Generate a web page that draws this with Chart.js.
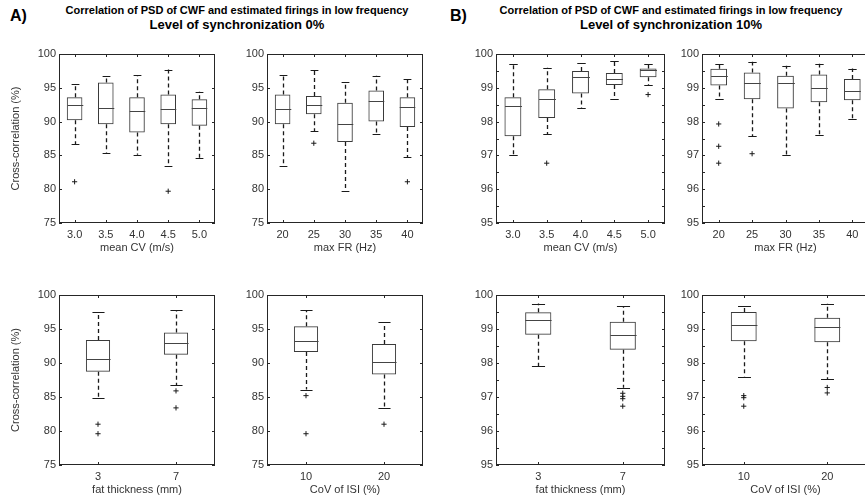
<!DOCTYPE html>
<html>
<head>
<meta charset="utf-8">
<script src="https://cdn.jsdelivr.net/npm/chart.js@4.4.1/dist/chart.umd.min.js"></script>
<style>
  body { margin: 0; background: #fff; width: 865px; height: 499px; overflow: hidden; position: relative;
         font-family: Arial, "Liberation Sans", sans-serif; }
  canvas { position: absolute; }
  .t { position: absolute; text-align: center; font-weight: bold; color: #000; white-space: nowrap; }
</style>
</head>
<body>
<div class="t" style="left:10px;top:8px;font-size:16px;line-height:16px;text-align:left">A)</div>
<div class="t" style="left:37px;top:4px;width:400px;font-size:11px;line-height:13px">Correlation of PSD of CWF and estimated firings in low frequency</div>
<div class="t" style="left:37px;top:18px;width:400px;font-size:13px;line-height:14px">Level of synchronization 0%</div>
<div class="t" style="left:450px;top:8px;font-size:16px;line-height:16px;text-align:left">B)</div>
<div class="t" style="left:471px;top:4px;width:400px;font-size:11px;line-height:13px">Correlation of PSD of CWF and estimated firings in low frequency</div>
<div class="t" style="left:471px;top:18px;width:400px;font-size:13px;line-height:14px">Level of synchronization 10%</div>

<script>
// categories
const cvLabels = ['3.0', '3.5', '4.0', '4.5', '5.0'];
const frLabels = ['20', '25', '30', '35', '40'];
const fatLabels = ['3', '7'];
const isiLabels = ['10', '20'];

// sync 0% - mean CV
const cv0Lo  = [86.7, 85.4, 85.1, 83.4, 84.6];
const cv0Q1  = [90.2, 89.6, 88.4, 89.6, 89.4];
const cv0Med = [92.4, 92.0, 91.5, 91.9, 92.0];
const cv0Q3  = [93.6, 95.8, 93.6, 94.0, 93.3];
const cv0Hi  = [95.6, 96.8, 96.9, 97.7, 94.4];
const cv0Out = [[81.1], [], [], [79.7], []];

// sync 0% - max FR
const fr0Lo  = [83.4, 88.6, 79.7, 88.2, 84.7];
const fr0Q1  = [89.6, 91.1, 87.0, 90.0, 89.2];
const fr0Med = [91.8, 92.4, 89.7, 93.0, 92.2];
const fr0Q3  = [94.0, 93.8, 92.8, 94.6, 93.6];
const fr0Hi  = [96.9, 97.7, 95.8, 96.8, 96.3];
const fr0Out = [[], [86.8], [], [], [81.1]];

// sync 0% - fat thickness
const fat0Lo  = [84.8, 86.7];
const fat0Q1  = [88.7, 91.2];
const fat0Med = [90.6, 93.0];
const fat0Q3  = [93.4, 94.5];
const fat0Hi  = [97.5, 97.8];
const fat0Out = [[81.0, 79.6], [85.9, 83.4]];

// sync 0% - CoV of ISI
const isi0Lo  = [86.1, 83.4];
const isi0Q1  = [91.6, 88.3];
const isi0Med = [93.2, 90.2];
const isi0Q3  = [95.4, 92.8];
const isi0Hi  = [97.8, 96.0];
const isi0Out = [[85.2, 79.6], [81.0]];

// sync 10% - mean CV
const cv10Lo  = [97.00, 97.62, 98.40, 98.67, 99.08];
const cv10Q1  = [97.57, 98.11, 98.83, 99.08, 99.31];
const cv10Med = [98.46, 98.66, 99.31, 99.26, 99.53];
const cv10Q3  = [98.72, 98.96, 99.50, 99.44, 99.57];
const cv10Hi  = [99.69, 99.59, 99.72, 99.79, 99.71];
const cv10Out = [[], [96.77], [], [], [98.80]];

// sync 10% - max FR
const fr10Lo  = [98.66, 97.57, 97.00, 97.60, 98.09];
const fr10Q1  = [99.07, 98.66, 98.39, 98.57, 98.63];
const fr10Med = [99.36, 99.15, 99.15, 99.00, 98.90];
const fr10Q3  = [99.56, 99.45, 99.36, 99.39, 99.26];
const fr10Hi  = [99.71, 99.77, 99.65, 99.71, 99.57];
const fr10Out = [[97.93, 97.27, 96.77], [97.05], [], [], []];

// sync 10% - fat thickness
const fat10Lo  = [97.90, 97.27];
const fat10Q1  = [98.83, 98.39];
const fat10Med = [99.27, 98.83];
const fat10Q3  = [99.49, 99.21];
const fat10Hi  = [99.75, 99.67];
const fat10Out = [[], [97.11, 97.02, 96.95, 96.73]];

// sync 10% - CoV of ISI
const isi10Lo  = [97.60, 97.53];
const isi10Q1  = [98.64, 98.61];
const isi10Med = [99.12, 99.06];
const isi10Q3  = [99.50, 99.33];
const isi10Hi  = [99.67, 99.75];
const isi10Out = [[97.04, 96.98, 96.73], [97.28, 97.12]];

const ticksA = [75, 100, 5];
const ticksB = [95, 100, 1];

const FONT = 'Arial, "Liberation Sans", sans-serif';
const AX = '#262626';
const TXT = '#333';

const panels = [
  { l: 59,  t: 54,  r: 215, b: 223, labels: cvLabels,  xt: 'mean CV (m/s)',      yt: 'Cross-correlation (%)', yr: ticksA, minor: 0,
    lo: cv0Lo, q1: cv0Q1, med: cv0Med, q3: cv0Q3, hi: cv0Hi, out: cv0Out },
  { l: 267, t: 54,  r: 423, b: 223, labels: frLabels,  xt: 'max FR (Hz)',        yt: '', yr: ticksA, minor: 0,
    lo: fr0Lo, q1: fr0Q1, med: fr0Med, q3: fr0Q3, hi: fr0Hi, out: fr0Out },
  { l: 496, t: 54,  r: 665, b: 223, labels: cvLabels,  xt: 'mean CV (m/s)',      yt: '', yr: ticksB, minor: 0.5,
    lo: cv10Lo, q1: cv10Q1, med: cv10Med, q3: cv10Q3, hi: cv10Hi, out: cv10Out },
  { l: 702, t: 54,  r: 869, b: 223, labels: frLabels,  xt: 'max FR (Hz)',        yt: '', yr: ticksB, minor: 0.5,
    lo: fr10Lo, q1: fr10Q1, med: fr10Med, q3: fr10Q3, hi: fr10Hi, out: fr10Out },
  { l: 59,  t: 295, r: 215, b: 465, labels: fatLabels, xt: 'fat thickness (mm)', yt: 'Cross-correlation (%)', yr: ticksA, minor: 0,
    lo: fat0Lo, q1: fat0Q1, med: fat0Med, q3: fat0Q3, hi: fat0Hi, out: fat0Out },
  { l: 267, t: 295, r: 423, b: 465, labels: isiLabels, xt: 'CoV of ISI (%)',     yt: '', yr: ticksA, minor: 0,
    lo: isi0Lo, q1: isi0Q1, med: isi0Med, q3: isi0Q3, hi: isi0Hi, out: isi0Out },
  { l: 496, t: 295, r: 665, b: 465, labels: fatLabels, xt: 'fat thickness (mm)', yt: '', yr: ticksB, minor: 0.5,
    lo: fat10Lo, q1: fat10Q1, med: fat10Med, q3: fat10Q3, hi: fat10Hi, out: fat10Out },
  { l: 702, t: 295, r: 869, b: 465, labels: isiLabels, xt: 'CoV of ISI (%)',     yt: '', yr: ticksB, minor: 0.5,
    lo: isi10Lo, q1: isi10Q1, med: isi10Med, q3: isi10Q3, hi: isi10Hi, out: isi10Out }
];

// whiskers, medians, frame and inward tick marks
function boxParts(p, bp) {
  return {
    id: 'boxParts',
    afterDatasetsDraw(chart) {
      const { ctx, chartArea: a, scales: { x, y } } = chart;
      const n = p.labels.length;
      const bw = (a.right - a.left) / n * bp;
      ctx.save();
      for (let i = 0; i < n; i++) {
        const cx = Math.round(x.getPixelForValue(i)) + 0.5;
        ctx.strokeStyle = '#1a1a1a';
        ctx.lineWidth = 1.3;
        ctx.setLineDash([4, 3]);
        ctx.beginPath();
        ctx.moveTo(cx, y.getPixelForValue(p.q3[i]));
        ctx.lineTo(cx, y.getPixelForValue(p.hi[i]));
        ctx.moveTo(cx, y.getPixelForValue(p.q1[i]));
        ctx.lineTo(cx, y.getPixelForValue(p.lo[i]));
        ctx.stroke();
        ctx.setLineDash([]);
        ctx.lineWidth = 1;
        ctx.beginPath();
        const yh = Math.round(y.getPixelForValue(p.hi[i])) + 0.5;
        const yl = Math.round(y.getPixelForValue(p.lo[i])) + 0.5;
        ctx.moveTo(cx - bw / 4, yh); ctx.lineTo(cx + bw / 4, yh);
        ctx.moveTo(cx - bw / 4, yl); ctx.lineTo(cx + bw / 4, yl);
        ctx.stroke();
        const ym = Math.round(y.getPixelForValue(p.med[i])) + 0.5;
        ctx.strokeStyle = '#444';
        ctx.beginPath();
        ctx.moveTo(cx - bw / 2, ym); ctx.lineTo(cx + bw / 2, ym);
        ctx.stroke();
      }
      ctx.restore();
    },
    afterDraw(chart) {
      const { ctx, chartArea: a, scales: { x, y } } = chart;
      ctx.save();
      ctx.strokeStyle = AX;
      ctx.lineWidth = 1;
      ctx.strokeRect(a.left + 0.5, a.top + 0.5, a.right - a.left - 1, a.bottom - a.top - 1);
      ctx.beginPath();
      const [lo, hi, step] = p.yr;
      const st = p.minor || step;
      for (let v = lo; v <= hi + 1e-9; v += st) {
        const py = Math.round(y.getPixelForValue(v)) + 0.5;
        ctx.moveTo(a.left, py); ctx.lineTo(a.left + 3, py);
        ctx.moveTo(a.right, py); ctx.lineTo(a.right - 3, py);
      }
      p.labels.forEach((_, i) => {
        const px = Math.round(x.getPixelForValue(i)) + 0.5;
        ctx.moveTo(px, a.bottom); ctx.lineTo(px, a.bottom - 3);
        ctx.moveTo(px, a.top); ctx.lineTo(px, a.top + 3);
      });
      ctx.stroke();
      ctx.restore();
    }
  };
}

panels.forEach(p => {
  const padL = 50, padT = 10, padR = 10, xh = 36;
  const cv = document.createElement('canvas');
  const w = p.r - p.l + padL + padR;
  const h = p.b - p.t + padT + xh;
  cv.width = w; cv.height = h;
  cv.style.left = (p.l - padL) + 'px';
  cv.style.top = (p.t - padT) + 'px';
  cv.style.width = w + 'px';
  cv.style.height = h + 'px';
  document.body.appendChild(cv);

  const bp = p.labels.length > 2 ? 0.5 : 0.31;
  const outPts = p.out.flatMap((arr, i) => arr.map(v => ({ x: p.labels[i], y: v })));

  new Chart(cv.getContext('2d'), {
    type: 'bar',
    data: {
      labels: p.labels,
      datasets: [
        {
          data: p.q1.map((v, i) => [v, p.q3[i]]),
          backgroundColor: 'rgba(0,0,0,0)',
          borderColor: '#3a3a3a',
          borderWidth: 1,
          borderSkipped: false,
          categoryPercentage: 1,
          barPercentage: bp
        },
        {
          type: 'line',
          data: outPts,
          showLine: false,
          pointStyle: 'cross',
          pointRadius: 2.6,
          pointBorderWidth: 1,
          pointBorderColor: '#1a1a1a',
          borderColor: '#1a1a1a'
        }
      ]
    },
    options: {
      responsive: false,
      animation: false,
      layout: { padding: { top: padT, right: padR, left: 0, bottom: 0 } },
      plugins: { legend: { display: false }, tooltip: { enabled: false } },
      scales: {
        x: {
          type: 'category',
          offset: true,
          grid: { display: false, drawTicks: false },
          border: { display: false },
          ticks: { color: TXT, font: { family: FONT, size: 11 }, padding: 5, maxRotation: 0, autoSkip: false },
          title: { display: true, text: p.xt, color: TXT, font: { family: FONT, size: 11 }, padding: { top: 0, bottom: 4 } },
          afterFit: s => { s.height = xh; }
        },
        y: {
          min: p.yr[0],
          max: p.yr[1],
          grid: { display: false, drawTicks: false },
          border: { display: false },
          ticks: { stepSize: p.yr[2], color: TXT, font: { family: FONT, size: 11 }, padding: 3 },
          title: { display: !!p.yt, text: p.yt, color: TXT, font: { family: FONT, size: 11 }, padding: { top: 0, bottom: 0 } },
          afterFit: s => { s.width = padL; }
        }
      }
    },
    plugins: [boxParts(p, bp)]
  });
});
</script>
</body>
</html>
